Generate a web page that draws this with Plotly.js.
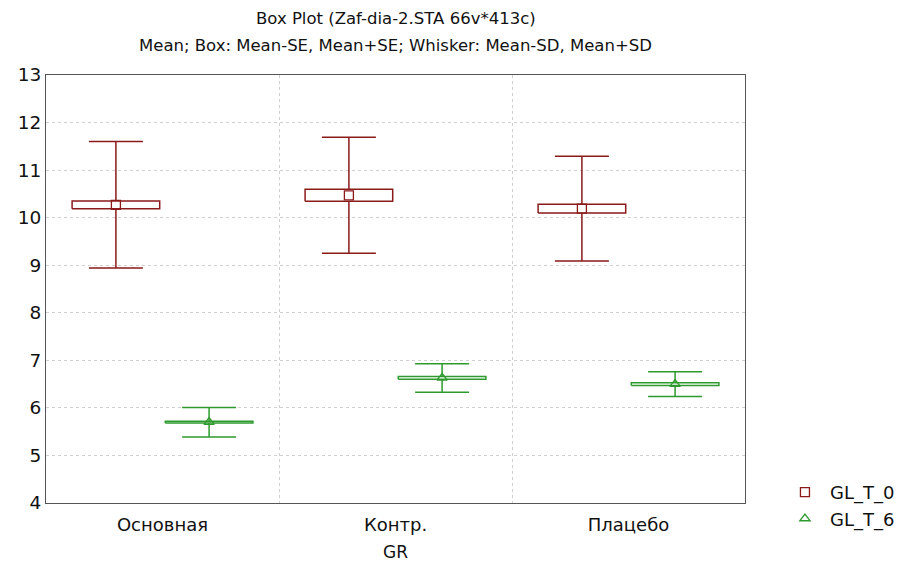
<!DOCTYPE html>
<html><head><meta charset="utf-8">
<script src="https://cdn.plot.ly/plotly-3.0.1.min.js"></script>
<style>body{margin:0;background:#fff}#c{width:899px;height:563px}</style>
</head><body><div id="c"></div>
<script>
const categories = ["Основная", "Контр.", "Плацебо"];
const seriesNames = ["GL_T_0", "GL_T_6"];
const meanT0 = [10.27, 10.47, 10.19];
const seT0   = [0.08, 0.125, 0.09];
const sdT0   = [1.33, 1.22, 1.10];
const meanT6 = [5.70, 6.63, 6.50];
const seT6   = [0.02, 0.03, 0.03];
const sdT6   = [0.31, 0.30, 0.26];
const yTicks = [4,5,6,7,8,9,10,11,12,13];
const titleLines = ["Box Plot (Zaf-dia-2.STA 66v*413c)", "Mean; Box: Mean-SE, Mean+SE; Whisker: Mean-SD, Mean+SD"];

const colors = ["#8b1a1a", "#2e9a2e"];
const symbols = ["square-open", "triangle-up-open"];
const offsets = [-0.2, 0.2];
const halfBox = 0.188;
const traces = [];
const series = [[meanT0, seT0, sdT0], [meanT6, seT6, sdT6]];
series.forEach(([m, se, sd], s) => {
  const xs = categories.map((_, i) => i + offsets[s]);
  traces.push({type:"scatter", mode:"none", x:xs, y:m, showlegend:false, hoverinfo:"skip",
    error_y:{type:"data", array:sd, visible:true, color:colors[s], thickness:1.5, width:27}});
  categories.forEach((_, i) => {
    const x0 = xs[i]-halfBox, x1 = xs[i]+halfBox, y0 = m[i]-se[i], y1 = m[i]+se[i];
    traces.push({type:"scatter", mode:"lines", x:[x0,x1,x1,x0,x0], y:[y0,y0,y1,y1,y0],
      fill:"toself", fillcolor:"#ffffff", line:{color:colors[s], width:1.5},
      showlegend:false, hoverinfo:"skip"});
  });
});
series.forEach(([m], s) => {
  const xs = categories.map((_, i) => i + offsets[s]);
  traces.push({type:"scatter", mode:"markers", name:seriesNames[s], x:xs, y:m,
    marker:{symbol:symbols[s], size:9, color:colors[s], line:{width:1.3, color:colors[s]}}});
});

const FONT = "DejaVu Sans, Verdana, sans-serif";
const layout = {
  width:899, height:563, paper_bgcolor:"#fff", plot_bgcolor:"#fff",
  margin:{l:46, r:154, t:75, b:60, autoexpand:false},
  font:{family:FONT, color:"#111"},
  annotations:[
    {text:titleLines[0], xref:"paper", yref:"paper", x:0.5, y:1+(75-18)/428, xanchor:"center", yanchor:"middle", showarrow:false, font:{size:16.5, color:"#111"}},
    {text:titleLines[1], xref:"paper", yref:"paper", x:0.5, y:1+(75-45)/428, xanchor:"center", yanchor:"middle", showarrow:false, font:{size:16.5, color:"#111"}}
  ],
  xaxis:{range:[-0.5,2.5], tickmode:"array", tickvals:[0,1,2], ticktext:categories,
    showgrid:false, zeroline:false, showline:true, mirror:true, linecolor:"#555", linewidth:1,
    ticks:"", tickfont:{size:18, color:"#111"}, ticklabelstandoff:5,
    minor:{tickmode:"array", tickvals:[0.5,1.5], showgrid:true, gridcolor:"#d0d0d0", griddash:"dot", gridwidth:1, ticks:""},
    title:{text:"GR", font:{size:17, color:"#111"}, standoff:12}},
  yaxis:{range:[4,13], tickmode:"array", tickvals:yTicks, showgrid:true, gridcolor:"#d0d0d0", griddash:"dot",
    zeroline:false, showline:true, mirror:true, linecolor:"#555", linewidth:1, ticks:"",
    tickfont:{size:18.5, color:"#111"}},
  legend:{x:1.05, y:0.068, xanchor:"left", yanchor:"top", font:{size:18, color:"#111"}, bgcolor:"rgba(0,0,0,0)", tracegroupgap:0, itemwidth:40},
  showlegend:true
};
Plotly.newPlot("c", traces, layout, {displayModeBar:false, staticPlot:true});
</script>
</body></html>
